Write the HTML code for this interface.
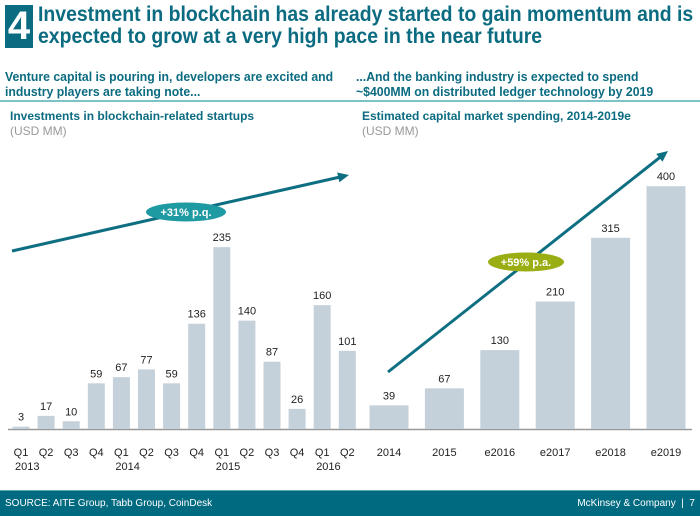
<!DOCTYPE html>
<html><head><meta charset="utf-8"><style>
body{margin:0;width:700px;height:515px;overflow:hidden;background:#fff;font-family:"Liberation Sans",sans-serif;position:relative}
.t{position:absolute;white-space:nowrap}
</style></head><body>
<div class="t" style="left:5px;top:5px;width:28px;height:43px;background:#0b6b80;color:#fff;font-weight:bold;font-size:40px;line-height:43px;text-align:center">4</div>
<div class="t" style="left:38px;top:4px;color:#0b6b80;font-weight:bold;font-size:21px;line-height:22px;transform:scaleX(0.925);transform-origin:0 0">Investment in blockchain has already started to gain momentum and is<br>expected to grow at a very high pace in the near future</div>
<div class="t" style="left:5px;top:70px;color:#0b6b80;font-weight:bold;font-size:12.5px;line-height:15px;transform:scaleX(0.98);transform-origin:0 0">Venture capital is pouring in, developers are excited and<br>industry players are taking note...</div>
<div class="t" style="left:356px;top:70px;color:#0b6b80;font-weight:bold;font-size:12.5px;line-height:15px;transform:scaleX(0.98);transform-origin:0 0">...And the banking industry is expected to spend<br>~$400MM on distributed ledger technology by 2019</div>
<div style="position:absolute;left:0;top:100px;width:700px;height:2px;background:#7cc3c9"></div>
<div class="t" style="left:10px;top:109px;color:#0b6b80;font-weight:bold;font-size:12px;line-height:15px">Investments in blockchain-related startups<br><span style="color:#999;font-weight:normal">(USD MM)</span></div>
<div class="t" style="left:362px;top:109px;color:#0b6b80;font-weight:bold;font-size:12px;line-height:15px">Estimated capital market spending, 2014-2019e<br><span style="color:#999;font-weight:normal">(USD MM)</span></div>
<svg id="c" width="700" height="490" style="position:absolute;left:0;top:0" font-family="Liberation Sans, sans-serif"></svg>
<div style="position:absolute;left:0;top:490px;width:700px;height:25px;background:#006a80;border-top:1px solid #5aa"></div>
<div class="t" style="left:5px;top:498px;color:#fff;font-size:10px">SOURCE: AITE Group, Tabb Group, CoinDesk</div>
<div class="t" style="right:5px;top:498px;color:#fff;font-size:10px">McKinsey &amp; Company &nbsp;|&nbsp; 7</div>
<script>
const leftCats=[["Q1","2013"],["Q2",""],["Q3",""],["Q4",""],["Q1","2014"],["Q2",""],["Q3",""],["Q4",""],["Q1","2015"],["Q2",""],["Q3",""],["Q4",""],["Q1","2016"],["Q2",""]];
const leftVals=[3,17,10,59,67,77,59,136,235,140,87,26,160,101];
const rightCats=["2014","2015","e2016","e2017","e2018","e2019"];
const rightVals=[39,67,130,210,315,400];
const NS="http://www.w3.org/2000/svg",svg=document.getElementById('c');
const base=429;
function el(t,a,txt){const e=document.createElementNS(NS,t);for(const k in a)e.setAttribute(k,a[k]);if(txt!=null)e.textContent=txt;svg.appendChild(e);return e;}
const yL=v=>base-v*0.774, xL=i=>21+i*25.1;
const yR=v=>base-v*0.607, xR=i=>389+i*55.4;
el('line',{x1:8,x2:692,y1:base+0.5,y2:base+0.5,stroke:'#999','stroke-width':1.5});
leftVals.forEach((v,i)=>{
 const r=el('rect',{x:xL(i)-8.5,y:yL(v),width:17,height:base-yL(v),fill:'#c5d1da'});
 
 const l=el('text',{x:xL(i),y:yL(v)-6,'text-anchor':'middle','font-size':11,fill:'#222'},v);
 
 const c=el('text',{x:xL(i),y:456,'text-anchor':'middle','font-size':11,fill:'#222'},leftCats[i][0]);
 
 if(leftCats[i][1]){const y=el('text',{x:xL(i)-6,y:470,'font-size':11,fill:'#222'},leftCats[i][1]);
 }
});
rightVals.forEach((v,i)=>{
 const r=el('rect',{x:xR(i)-19.5,y:yR(v),width:39,height:base-yR(v),fill:'#c5d1da'});
 
 const l=el('text',{x:xR(i),y:yR(v)-6,'text-anchor':'middle','font-size':11,fill:'#222'},v);
 
 const c=el('text',{x:xR(i),y:456,'text-anchor':'middle','font-size':11,fill:'#222'},rightCats[i]);
 
});
function arrow(x1,y1,x2,y2,name){
 const a=Math.atan2(y2-y1,x2-x1),L=11;
 const ln=el('line',{x1,y1,x2:x2-Math.cos(a)*8,y2:y2-Math.sin(a)*8,stroke:'#0f6f82','stroke-width':3});
 
 const p=[[x2,y2],[x2-L*Math.cos(a)+5*Math.sin(a),y2-L*Math.sin(a)-5*Math.cos(a)],[x2-L*Math.cos(a)-5*Math.sin(a),y2-L*Math.sin(a)+5*Math.cos(a)]];
 el('polygon',{points:p.map(q=>q.join(',')).join(' '),fill:'#0f6f82'});
}
arrow(12,251,349,175,'trend-arrow-left');
arrow(388,372,668,151,'trend-arrow-right');
el('ellipse',{cx:186,cy:212,rx:40,ry:9.5,fill:'#1e9aa2'});
el('text',{x:186,y:216,'text-anchor':'middle','font-size':11,'font-weight':'bold',fill:'#fff'},'+31% p.q.');
el('ellipse',{cx:526,cy:262,rx:38,ry:9.5,fill:'#9aae14'});
el('text',{x:526,y:266,'text-anchor':'middle','font-size':11,'font-weight':'bold',fill:'#fff'},'+59% p.a.');
</script>
</body></html>
